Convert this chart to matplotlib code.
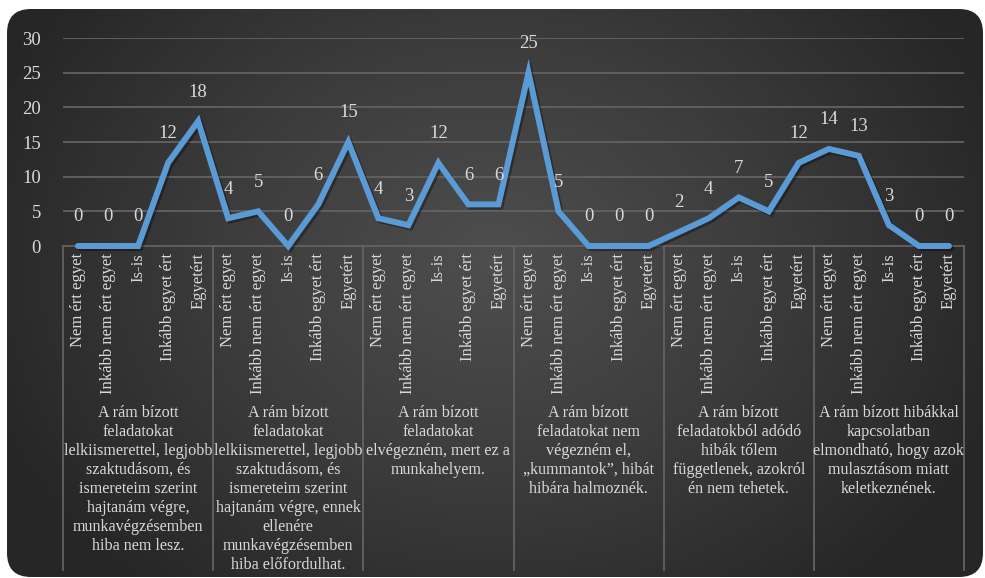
import numpy as np
import matplotlib
matplotlib.use('Agg')
import matplotlib.pyplot as plt
from matplotlib.patches import FancyBboxPatch
from matplotlib.colors import LinearSegmentedColormap
import matplotlib.transforms as mtransforms
import matplotlib.patheffects as pe

subcats = ['Nem ért egyet', 'Inkább nem ért egyet', 'Is-is', 'Inkább egyet ért', 'Egyetért']
groups = [
    'A rám bízott\nfeladatokat\nlelkiismerettel, legjobb\nszaktudásom, és\nismereteim szerint\nhajtanám végre,\nmunkavégzésemben\nhiba nem lesz.',
    'A rám bízott\nfeladatokat\nlelkiismerettel, legjobb\nszaktudásom, és\nismereteim szerint\nhajtanám végre, ennek\nellenére\nmunkavégzésemben\nhiba előfordulhat.',
    'A rám bízott\nfeladatokat\nelvégezném, mert ez a\nmunkahelyem.',
    'A rám bízott\nfeladatokat nem\nvégezném el,\n„kummantok”, hibát\nhibára halmoznék.',
    'A rám bízott\nfeladatokból adódó\nhibák tőlem\nfüggetlenek, azokról\nén nem tehetek.',
    'A rám bízott hibákkal\nkapcsolatban\nelmondható, hogy azok\nmulasztásom miatt\nkeletkeznének.',
]
values = [0, 0, 0, 12, 18,
          4, 5, 0, 6, 15,
          4, 3, 12, 6, 6,
          25, 5, 0, 0, 0,
          2, 4, 7, 5, 12,
          14, 13, 3, 0, 0]
yticks = [0, 5, 10, 15, 20, 25, 30]

W, H = 985, 578
plt.rcParams['font.family'] = ['Liberation Serif', 'DejaVu Serif']
txtcol = '#d9d9d9'
linecol = '#5b9bd5'
gridcol = '#626262'

fig = plt.figure(figsize=(W / 100, H / 100), dpi=100)
fig.patch.set_facecolor('white')

# background: rounded dark panel with radial gradient
bg = fig.add_axes([0, 0, 1, 1])
bg.set_xlim(0, W)
bg.set_ylim(H, 0)
bg.axis('off')
yy, xx = np.mgrid[0:H, 0:W]
r = np.sqrt(((xx - W * 0.5) / (W * 0.55)) ** 2 + ((yy - H * 0.45) / (H * 0.75)) ** 2)
cmap = LinearSegmentedColormap.from_list('bgc', ['#4e4e4e', '#3c3c3c', '#262626'])
im = bg.imshow(np.clip(r, 0, 1), cmap=cmap, extent=[0, W, H, 0], vmin=0, vmax=1,
               interpolation='bilinear')
box = FancyBboxPatch((7, 9), 976, 568, boxstyle='round,pad=0,rounding_size=24',
                     facecolor='none', edgecolor='none', transform=bg.transData)
bg.add_patch(box)
im.set_clip_path(box)

# plot area
x0, x1, ytop, ybot = 63, 964, 38, 246
ax = fig.add_axes([x0 / W, 1 - ybot / H, (x1 - x0) / W, (ybot - ytop) / H])
ax.patch.set_alpha(0)
n = len(values)
xs = np.arange(n) + 0.5
ax.set_xlim(0, n)
ax.set_ylim(0, 30)
for s in ax.spines.values():
    s.set_visible(False)
for t in yticks[1:]:
    ax.axhline(t, color=gridcol, lw=1.3, zorder=1)
ax.axhline(0, color=gridcol, lw=1.3, zorder=1, clip_on=False)
ax.set_xticks([])
ax.set_yticks(yticks)
ax.tick_params(axis='y', length=0, pad=16, labelsize=13.5, labelcolor=txtcol)

ax.plot(xs, values, color=linecol, lw=4.3, solid_joinstyle='miter',
        solid_capstyle='round', zorder=3, clip_on=False,
        path_effects=[pe.SimpleLineShadow(offset=(1.5, -1.5), shadow_color='black', alpha=0.35),
                      pe.Normal()])
for x, v in zip(xs, values):
    ax.annotate(str(v), (x, v), xytext=(0, 21), textcoords='offset points',
                ha='center', va='center', fontsize=13.5, color=txtcol, zorder=4)

# multi-level category axis
tr = mtransforms.blended_transform_factory(ax.transData, fig.transFigure)
for i, x in enumerate(xs):
    ax.text(x, 1 - 253 / H, subcats[i % 5], rotation=90, ha='center', va='top',
            fontsize=12, color=txtcol, transform=tr)
ng = len(groups)
for g in range(ng + 1):
    ax.plot([g * 5, g * 5], [1 - ybot / H, 1 - 570 / H], color=gridcol, lw=1.3,
            transform=tr, clip_on=False, zorder=1)
for g, label in enumerate(groups):
    ax.text(g * 5 + 2.5, 1 - 405 / H, label, ha='center', va='top', fontsize=11.6,
            color=txtcol, linespacing=1.25, transform=tr)

fig.savefig('out.png', dpi=100, facecolor='white')
